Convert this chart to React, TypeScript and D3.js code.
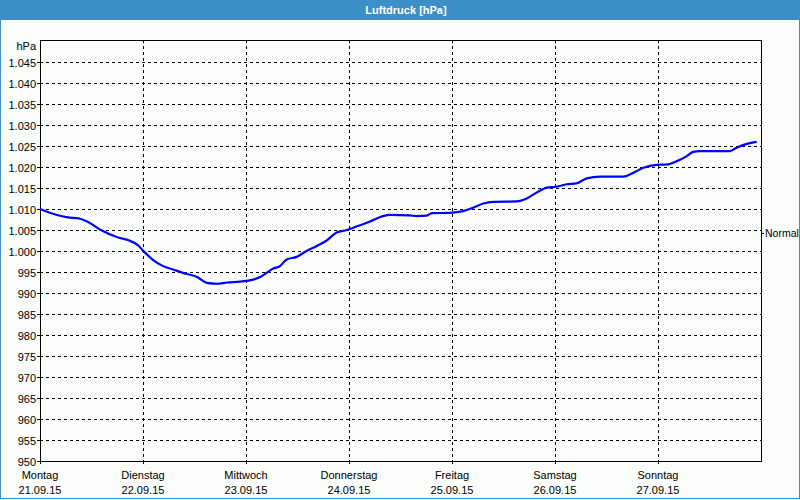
import React, { useEffect, useRef } from 'react';
import * as d3 from 'd3';

// hours since Montag 21.09.15 00:00, and air pressure in hPa
const hours = [0, 4.2, 6.5, 8.9, 11.2, 14.2, 18.2, 20.5, 22.8, 24.1, 26.3, 28.7, 31.0, 33.3, 36.6, 38.9, 41.2, 43.6, 46.6, 48.9,
  51.3, 52.8, 54.3, 55.9, 57.5, 59.8, 62.1, 64.5, 66.8, 69.1, 71.5, 74.2, 76.9, 79.9, 81.6, 86.2, 87.8, 90.1, 91.3, 95.5,
  98.6, 100.9, 103.3, 105.6, 111.1, 113.4, 115.7, 118.1, 120.4, 122.7, 125.0, 127.4, 130.5, 135.9, 138.2, 140.6, 143.7,
  146.0, 148.4, 150.7, 152.2, 153.8, 160.8, 162.3, 164.7, 167.0];
const pressure = [1010.0, 1008.5, 1008.0, 1007.8, 1006.9, 1005.0, 1003.2, 1002.6, 1001.4, 1000.0, 997.9, 996.4, 995.6, 994.8,
  993.8, 992.4, 992.2, 992.5, 992.7, 993.0, 993.8, 994.8, 995.8, 996.4, 998.0, 998.6, 1000.0, 1001.2, 1002.5, 1004.4, 1005.0,
  1006.0, 1007.0, 1008.3, 1008.6, 1008.5, 1008.3, 1008.4, 1009.0, 1009.1, 1009.5, 1010.3, 1011.3, 1011.7, 1011.8, 1012.5,
  1013.9, 1015.1, 1015.3, 1015.9, 1016.1, 1017.3, 1017.7, 1017.7, 1018.6, 1019.8, 1020.5, 1020.6, 1021.4, 1022.6, 1023.6,
  1023.8, 1023.8, 1024.6, 1025.5, 1026.0];

const dayNames = ['Montag', 'Dienstag', 'Mittwoch', 'Donnerstag', 'Freitag', 'Samstag', 'Sonntag'];
const dayDates = ['21.09.15', '22.09.15', '23.09.15', '24.09.15', '25.09.15', '26.09.15', '27.09.15'];
const yTicks = [950, 955, 960, 965, 970, 975, 980, 985, 990, 995, 1000, 1005, 1010, 1015, 1020, 1025, 1030, 1035, 1040, 1045];
const normalValue = 1004.2;

const W = 800, H = 500;
const font = '"Liberation Sans", Arial, sans-serif';

const fmt = (v: number) => v >= 1000 ? `${Math.floor(v / 1000)}.${String(v % 1000).padStart(3, '0')}` : String(v);
const px = (v: number) => Math.round(v) + 0.5;

export default function App() {
  const svgRef = useRef<SVGSVGElement>(null);

  useEffect(() => {
    const svg = d3.select(svgRef.current);
    svg.selectAll('*').remove();

    const x = d3.scaleLinear().domain([0, 7 * 24]).range([40, 761]);
    const y = d3.scaleLinear().domain([950, 1050]).range([461, 41]);

    // window frame and title bar
    svg.append('rect').attr('x', 0).attr('y', 0).attr('width', W).attr('height', H).attr('fill', '#fafdfa');
    svg.append('rect').attr('x', 0.5).attr('y', 0.5).attr('width', W - 1).attr('height', H - 2)
      .attr('fill', 'none').attr('stroke', '#3d8fc7');
    svg.append('rect').attr('x', 0).attr('y', 0).attr('width', W).attr('height', 20).attr('fill', '#3d8fc7');
    svg.append('text').text('Luftdruck [hPa]')
      .attr('x', 406).attr('y', 14).attr('text-anchor', 'middle')
      .attr('font-family', font).attr('font-size', 11).attr('font-weight', 'bold').attr('fill', '#fff');

    const g = svg.append('g').attr('shape-rendering', 'crispEdges');

    // horizontal grid
    yTicks.filter(d => d > 950).forEach(d => {
      g.append('line').attr('x1', 40).attr('x2', 761).attr('y1', px(y(d))).attr('y2', px(y(d)))
        .attr('stroke', '#000').attr('stroke-dasharray', '3,3');
    });
    // vertical grid
    dayNames.forEach((_, i) => {
      if (i === 0) return;
      g.append('line').attr('x1', px(x(i * 24))).attr('x2', px(x(i * 24))).attr('y1', 40).attr('y2', 461)
        .attr('stroke', '#000').attr('stroke-dasharray', '3,3');
    });

    // y labels + ticks
    yTicks.forEach(d => {
      g.append('line').attr('x1', 37).attr('x2', 40).attr('y1', px(y(d))).attr('y2', px(y(d))).attr('stroke', '#000');
      svg.append('text').text(fmt(d)).attr('x', 36).attr('y', Math.round(y(d)) + 5)
        .attr('text-anchor', 'end').attr('font-family', font).attr('font-size', 11).attr('fill', '#000');
    });
    svg.append('text').text('hPa').attr('x', 36).attr('y', 50)
      .attr('text-anchor', 'end').attr('font-family', font).attr('font-size', 11).attr('fill', '#000');

    // x labels + ticks
    dayNames.forEach((name, i) => {
      const xp = x(i * 24);
      g.append('line').attr('x1', px(xp)).attr('x2', px(xp)).attr('y1', 461).attr('y2', 464).attr('stroke', '#000');
      svg.append('text').text(name).attr('x', xp).attr('y', 479).attr('text-anchor', 'middle')
        .attr('font-family', font).attr('font-size', 11).attr('fill', '#000');
      svg.append('text').text(dayDates[i]).attr('x', xp).attr('y', 494).attr('text-anchor', 'middle')
        .attr('font-family', font).attr('font-size', 11).attr('fill', '#000');
    });

    // plot frame
    g.append('rect').attr('x', 40.5).attr('y', 40.5).attr('width', 721).attr('height', 421)
      .attr('fill', 'none').attr('stroke', '#000');

    // normal marker on the right
    g.append('line').attr('x1', 761).attr('x2', 764).attr('y1', px(y(normalValue))).attr('y2', px(y(normalValue)))
      .attr('stroke', '#000');
    svg.append('text').text('Normal').attr('x', 765).attr('y', Math.round(y(normalValue)) + 4)
      .attr('font-family', font).attr('font-size', 10.5).attr('fill', '#000');

    // pressure line
    const line = d3.line<number>()
      .x((_, i) => x(hours[i]))
      .y(d => y(d))
      .curve(d3.curveMonotoneX);
    svg.append('path').datum(pressure).attr('d', line)
      .attr('fill', 'none').attr('stroke', '#0000ff').attr('stroke-width', 2.2)
      .attr('stroke-linejoin', 'round');
  }, []);

  return (
    <svg ref={svgRef} width={W} height={H} viewBox={`0 0 ${W} ${H}`}
      style={{ position: 'absolute', left: 0, top: 0, display: 'block' }} />
  );
}
